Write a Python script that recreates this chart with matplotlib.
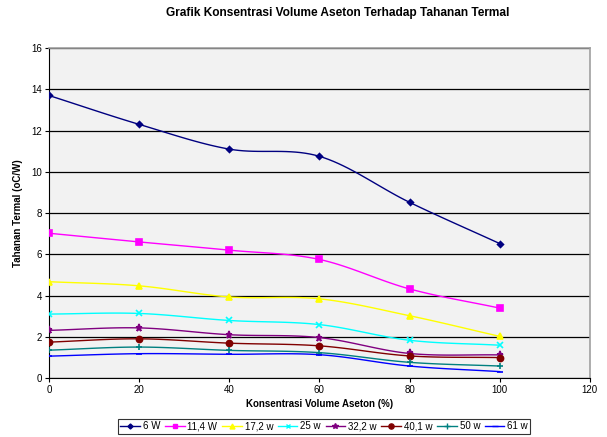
import numpy as np
import matplotlib
matplotlib.use("Agg")
import matplotlib.pyplot as plt

plt.rcParams['font.family'] = ['Liberation Sans', 'DejaVu Sans']

konsentrasi = [0, 20, 40, 60, 80, 100]
labels = ['6 W', '11,4 W', '17,2 w', '25 w', '32,2 w', '40,1 w', '50 w', '61 w']
w6 = [13.7, 12.3, 11.1, 10.75, 8.52, 6.52]
w11 = [7.02, 6.6, 6.2, 5.75, 4.32, 3.39]
w17 = [4.67, 4.47, 3.93, 3.84, 3.02, 2.02]
w25 = [3.1, 3.13, 2.79, 2.59, 1.83, 1.59]
w32 = [2.31, 2.43, 2.1, 1.96, 1.19, 1.12]
w40 = [1.74, 1.9, 1.69, 1.56, 1.07, 0.99]
w50 = [1.35, 1.5, 1.34, 1.23, 0.76, 0.58]
w61 = [1.06, 1.18, 1.15, 1.13, 0.58, 0.31]

series = [w6, w11, w17, w25, w32, w40, w50, w61]
colors = ['#000080', '#FF00FF', '#FFFF00', '#00FFFF', '#800080', '#800000', '#008080', '#0000FF']
markers = ['D', 's', '^', 'x', '*', 'o', '+', '_']
msizes = [3.0, 4.2, 4.2, 4.2, 5.2, 4.4, 5, 5]


def smooth(x, y, n=20):
    # catmull-rom style smoothing, similar to excel "smoothed line"
    x = np.asarray(x, float)
    y = np.asarray(y, float)
    px = np.concatenate([[2 * x[0] - x[1]], x, [2 * x[-1] - x[-2]]])
    py = np.concatenate([[2 * y[0] - y[1]], y, [2 * y[-1] - y[-2]]])
    xs, ys = [], []
    t = np.linspace(0, 1, n)
    for i in range(1, len(px) - 2):
        for p, out in ((px, xs), (py, ys)):
            p0, p1, p2, p3 = p[i - 1], p[i], p[i + 1], p[i + 2]
            out.extend(0.5 * ((2 * p1) + (-p0 + p2) * t
                              + (2 * p0 - 5 * p1 + 4 * p2 - p3) * t ** 2
                              + (-p0 + 3 * p1 - 3 * p2 + p3) * t ** 3))
    return xs, ys


fig = plt.figure(figsize=(6.07, 4.37), dpi=100)
ax = fig.add_axes([0.0807, 0.135, 0.891, 0.755])
ax.set_facecolor('#F2F2F2')

for vals, c, m, ms, lab in zip(series, colors, markers, msizes, labels):
    sx, sy = smooth(konsentrasi, vals)
    ax.plot(sx, sy, color=c, lw=1.0, zorder=3)
    ax.plot(konsentrasi, vals, linestyle='none', marker=m, color=c, ms=ms,
            mew=1.2, zorder=4)
    ax.plot([], [], color=c, marker=m, ms=ms * 0.85, mew=1.0, lw=1.0, label=lab)

ax.set_xlim(0, 120)
ax.set_ylim(0, 16)
ax.set_xticks(range(0, 121, 20))
ax.set_yticks(range(0, 17, 2))
ax.grid(axis='y', color='black', lw=0.9)
ax.set_axisbelow(True)
ax.tick_params(labelsize=7, direction='out', length=3, width=0.8, pad=2)
for s in ['left', 'bottom']:
    ax.spines[s].set_color('black')
for s in ['top', 'right']:
    ax.spines[s].set_color('#A0A0A0')
    ax.spines[s].set_linewidth(1.2)

ax.set_xlabel('Konsentrasi Volume Aseton (%)', fontsize=7, fontweight='bold', labelpad=3)
ax.set_ylabel('Tahanan Termal (oC/W)', fontsize=7, fontweight='bold', labelpad=6)
fig.text(0.557, 0.97, 'Grafik Konsentrasi Volume Aseton Terhadap Tahanan Termal',
         fontsize=8.6, fontweight='bold', ha='center', va='center')

leg = fig.legend(loc='center', bbox_to_anchor=(0.534, 0.025), ncol=8, fontsize=7,
                 frameon=True, fancybox=False, edgecolor='black', handlelength=2.0,
                 handletextpad=0.3, columnspacing=0.5, borderpad=0.25)
leg.get_frame().set_linewidth(0.8)

fig.savefig('out.png', dpi=100)
